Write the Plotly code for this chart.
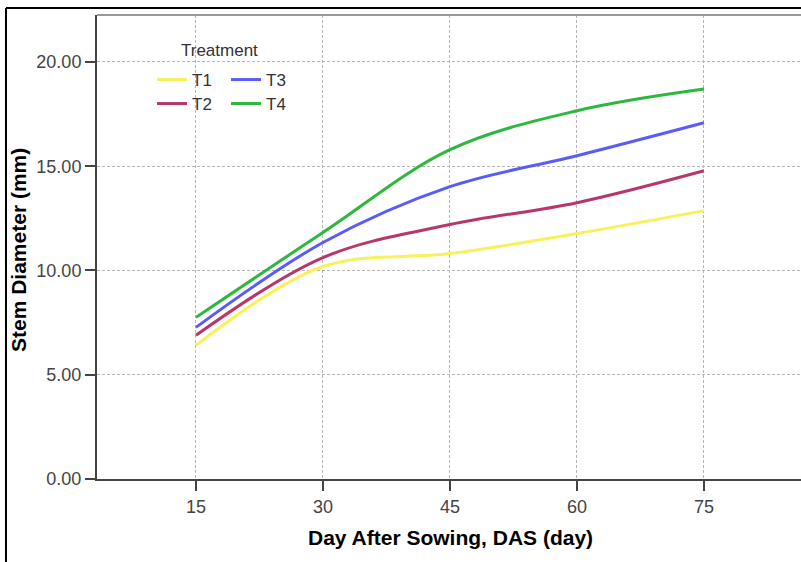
import plotly.graph_objects as go

days = [15, 30, 45, 60, 75]
t1 = [6.41, 10.19, 10.81, 11.77, 12.87]
t2 = [6.89, 10.62, 12.20, 13.25, 14.78]
t3 = [7.27, 11.34, 14.02, 15.50, 17.08]
t4 = [7.75, 11.82, 15.79, 17.66, 18.70]

names = ["T1", "T2", "T3", "T4"]
series = [t1, t2, t3, t4]
colors = ["#f6f25c", "#b7376c", "#5a5cfa", "#2db83d"]
legends = ["legend", "legend2", "legend3", "legend4"]

W, H = 801, 562
L, R, T, B = 97, 0, 15, 83
pw, ph = W - L - R, H - T - B

def px_x(p):
    return (p - L) / pw

def px_y(p):
    return (H - B - p) / ph

fig = go.Figure()
for n, s, c, lg in zip(names, series, colors, legends):
    fig.add_trace(go.Scatter(x=days, y=s, name=n, mode="lines",
                             line=dict(color=c, width=3, shape="spline"),
                             legend=lg))

font = "Liberation Sans, Arial, sans-serif"
leg_common = dict(bgcolor="rgba(0,0,0,0)", borderwidth=0, xanchor="left",
                  yanchor="middle", font=dict(family=font, size=17, color="#333"))
fig.update_layout(
    width=W, height=H,
    margin=dict(l=L, r=R, t=T, b=B),
    paper_bgcolor="white", plot_bgcolor="white",
    showlegend=True,
    legend=dict(x=px_x(152), y=px_y(80), **leg_common),
    legend2=dict(x=px_x(152), y=px_y(104), **leg_common),
    legend3=dict(x=px_x(226), y=px_y(80), **leg_common),
    legend4=dict(x=px_x(226), y=px_y(104), **leg_common),
    xaxis=dict(range=[3.31, 86.46], tickvals=days, ticktext=[str(d) for d in days],
               showgrid=True, gridcolor="#b5b5b5", griddash="3px,2px", gridwidth=1,
               showline=True, linecolor="#444", linewidth=2,
               ticks="outside", ticklen=10, tickcolor="#444", tickwidth=2,
               tickfont=dict(family=font, size=18, color="#444"), zeroline=False),
    yaxis=dict(range=[0, 22.25], tickvals=[0, 5, 10, 15, 20],
               ticktext=["0.00", "5.00", "10.00", "15.00", "20.00"],
               showgrid=True, gridcolor="#b5b5b5", griddash="3px,2px", gridwidth=1,
               showline=True, linecolor="#444", linewidth=2,
               ticks="outside", ticklen=10, tickcolor="#444", tickwidth=2,
               tickfont=dict(family=font, size=18, color="#444"), zeroline=False),
)

fig.add_annotation(text="Treatment", xref="paper", yref="paper",
                   x=px_x(219), y=px_y(50), showarrow=False,
                   xanchor="center", yanchor="middle",
                   font=dict(family=font, size=17, color="#333"))
fig.add_annotation(text="<b>Day After Sowing, DAS (day)</b>", xref="paper", yref="paper",
                   x=px_x(450), y=px_y(537), showarrow=False,
                   xanchor="center", yanchor="middle",
                   font=dict(family=font, size=21, color="black"))
fig.add_annotation(text="<b>Stem Diameter (mm)</b>", xref="paper", yref="paper",
                   x=px_x(18), y=px_y(250), showarrow=False, textangle=-90,
                   xanchor="center", yanchor="middle",
                   font=dict(family=font, size=21, color="black"))

# outer frame and top plot border
fig.add_shape(type="line", xref="paper", yref="paper", x0=px_x(6), x1=px_x(801),
              y0=px_y(8), y1=px_y(8), line=dict(color="black", width=2))
fig.add_shape(type="line", xref="paper", yref="paper", x0=px_x(6), x1=px_x(6),
              y0=px_y(8), y1=px_y(562), line=dict(color="black", width=2))
fig.add_shape(type="line", xref="paper", yref="paper", x0=0, x1=1,
              y0=px_y(15), y1=px_y(15), line=dict(color="#999", width=2))

fig.write_html("out.html")
